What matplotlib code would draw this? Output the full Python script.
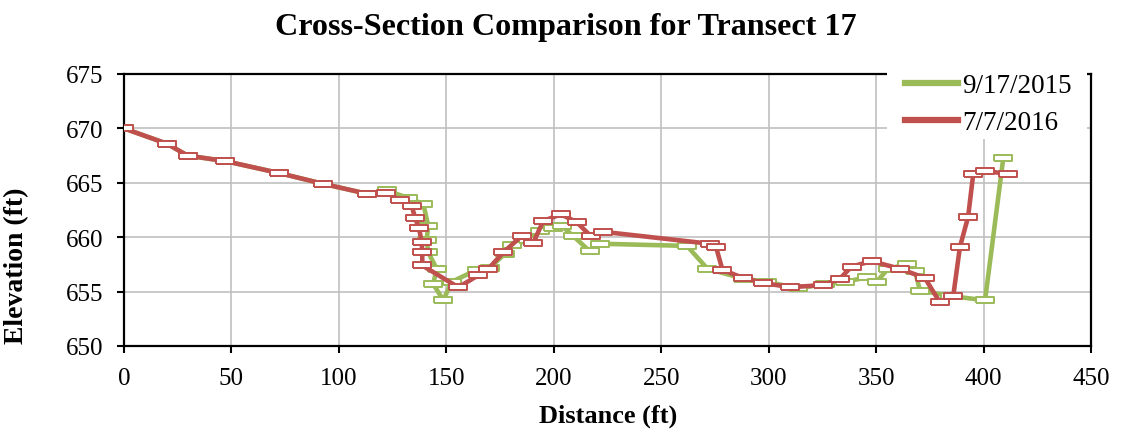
import matplotlib.pyplot as plt
from matplotlib.lines import Line2D
from matplotlib.patches import Rectangle

# 9/17/2015 survey
dist_2015 = [0, 19.9, 29.6, 47, 72.1, 92.8, 112.9, 122.2, 132.3, 139.3, 141.6, 140.8,
             141.6, 145.5, 143.9, 148.6, 152.5, 164.1, 170.3, 177.3, 180.4, 188.1,
             193.6, 199.8, 203.7, 209.1, 216.8, 221.5, 262, 271.5, 288, 299, 313.8,
             326.2, 335.5, 345.6, 350.2, 355.6, 364.2, 368.1, 370.4, 384.4, 400.7, 409.2]
elev_2015 = [670.0, 668.6, 667.5, 667.0, 665.9, 664.9, 664.0, 664.3, 663.6, 663.05, 661.05, 659.7,
             658.6, 657.1, 655.7, 654.2, 655.9, 657.0, 657.2, 658.5, 659.3, 659.7,
             660.6, 660.8, 661.05, 660.1, 658.7, 659.4, 659.2, 657.1, 656.2, 655.9, 655.3,
             655.7, 655.9, 656.3, 655.9, 657.1, 657.5, 656.9, 655.1, 654.6, 654.2, 667.3]

# 7/7/2016 survey
dist_2016 = [0, 19.9, 29.6, 47, 72.1, 92.8, 112.9, 122, 128.5, 133.9, 135.4, 137.3, 138.5,
             138.8, 138.8, 155.6, 164.9, 169.6, 176.5, 185, 190.5, 195.1, 203.3, 210.6,
             217.2, 222.8, 272.5, 275.5, 278.5, 288.2, 297.5, 309.9, 325.4, 333.2, 338.6,
             347.9, 361.1, 372.7, 379.7, 385.9, 389, 392.8, 395.2, 400.7, 411.5]
elev_2016 = [670.0, 668.6, 667.5, 667.0, 665.9, 664.9, 664.0, 664.1, 663.4, 662.9, 661.8, 660.8, 659.6,
             658.6, 657.4, 655.4, 656.5, 657.1, 658.6, 660.1, 659.5, 661.5, 662.1, 661.4,
             660.1, 660.5, 659.4, 659.1, 657.0, 656.25, 655.8, 655.4, 655.6, 656.2, 657.3,
             657.8, 657.1, 656.25, 654.0, 654.6, 659.1, 661.85, 665.8, 666.1, 665.8]

labels = ['9/17/2015', '7/7/2016']
colors = ['#9BBB59', '#C0504D']

plt.rcParams['font.family'] = 'Liberation Serif'

W, H = 1121, 435
fig = plt.figure(figsize=(W / 100, H / 100), dpi=100)
ax = fig.add_axes([124 / W, 1 - 347 / H, (1091 - 124) / W, (347 - 75) / H])

rect = [(-1, -0.3), (1, -0.3), (1, 0.3), (-1, 0.3), (-1, -0.3)]
series = [(dist_2015, elev_2015), (dist_2016, elev_2016)]
for (x, y), c in zip(series, colors):
    ax.plot(x, y, color=c, lw=3.3, marker=rect, ms=13, mfc='white', mec=c, mew=1.4,
            solid_joinstyle='round', zorder=3)

ax.set_xlim(0, 450)
ax.set_ylim(650, 675)
ax.set_xticks(range(0, 451, 50))
ax.set_yticks(range(650, 676, 5))
ax.grid(True, color='#C0C0C0', lw=1.2)
ax.set_axisbelow(True)
for s in ax.spines.values():
    s.set_linewidth(1.6)
    s.set_color('black')
ax.tick_params(direction='out', length=5, width=1.5, labelsize=18, pad=10)

fig.text(566 / W, 1 - 35 / H, 'Cross-Section Comparison for Transect 17',
         fontsize=23.1, fontweight='bold', ha='center', va='baseline')
fig.text(608 / W, 1 - 423 / H, 'Distance (ft)', fontsize=19, fontweight='bold',
         ha='center', va='baseline')
fig.text(17 / W, 1 - 266 / H, 'Elevation (ft)', fontsize=20, fontweight='bold',
         ha='center', va='center', rotation=90)

# white box behind the legend, covering the top border like the original
ax.add_patch(Rectangle((887 / W, 1 - 140 / H), 200 / W, 72 / H, transform=fig.transFigure,
                       facecolor='white', edgecolor='none', clip_on=False, zorder=4))

handles = [Line2D([], [], color=c, lw=4.5) for c in colors]
leg = ax.legend(handles, labels, loc='upper left', fontsize=19.5,
                bbox_to_anchor=(905 / W, 1 - 74 / H), bbox_transform=fig.transFigure,
                frameon=False, handlelength=1.95, handletextpad=0.15, labelspacing=0.45,
                borderpad=0, borderaxespad=0)
leg.set_zorder(5)

fig.savefig('out.png', dpi=100)
